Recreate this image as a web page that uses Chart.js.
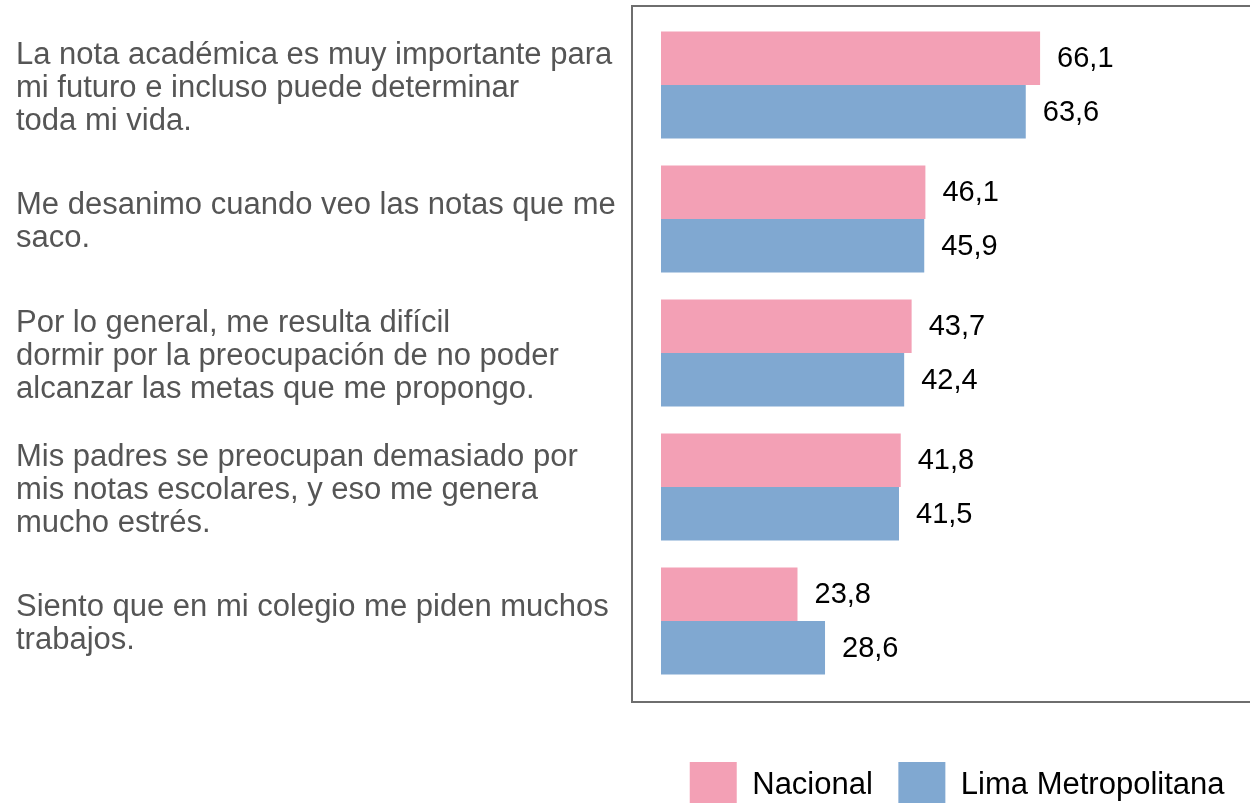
<!DOCTYPE html>
<html>
<head>
<meta charset="utf-8">
<script src="https://cdn.jsdelivr.net/npm/chart.js@4.4.0/dist/chart.umd.min.js"></script>
<style>
    html, body { margin: 0; padding: 0; background: #fff; overflow: hidden; }
    .chart-box { width: 1250px; height: 819px; position: relative; }
</style>
</head>
<body>
<div class="chart-box"><canvas id="estres"></canvas></div>
<script>
// preguntas (una línea por elemento)
const categories = [
    ['La nota académica es muy importante para', 'mi futuro e incluso puede determinar', 'toda mi vida.'],
    ['Me desanimo cuando veo las notas que me', 'saco.'],
    ['Por lo general, me resulta difícil', 'dormir por la preocupación de no poder', 'alcanzar las metas que me propongo.'],
    ['Mis padres se preocupan demasiado por', 'mis notas escolares, y eso me genera', 'mucho estrés.'],
    ['Siento que en mi colegio me piden muchos', 'trabajos.']
];
const series_names = ['Nacional', 'Lima Metropolitana'];
const nacional = [66.1, 46.1, 43.7, 41.8, 23.8];
const lima = [63.6, 45.9, 42.4, 41.5, 28.6];

const colors = ['rgb(243, 160, 181)', 'rgb(128, 168, 209)'];

Chart.defaults.font.family = "'Liberation Sans', Arial, sans-serif";

// valores al final de cada barra, con coma decimal
const valueLabels = {
    id: 'valueLabels',
    afterDatasetsDraw(chart) {
        const ctx = chart.ctx;
        ctx.save();
        ctx.font = "29px 'Liberation Sans', Arial, sans-serif";
        ctx.fillStyle = '#000';
        ctx.textAlign = 'left';
        ctx.textBaseline = 'middle';
        chart.data.datasets.forEach((ds, i) => {
            chart.getDatasetMeta(i).data.forEach((bar, j) => {
                ctx.fillText(ds.data[j].toFixed(1).replace('.', ','), bar.x + 17, bar.y + 1);
            });
        });
        ctx.restore();
    }
};

// marco gris alrededor del área de barras
const plotFrame = {
    id: 'plotFrame',
    beforeDatasetsDraw(chart) {
        const a = chart.chartArea;
        const ctx = chart.ctx;
        ctx.save();
        ctx.strokeStyle = '#6e6e6e';
        ctx.lineWidth = 2;
        ctx.strokeRect(a.left - 29, a.top - 12, a.right - a.left + 60, a.bottom - a.top + 26);
        ctx.restore();
    }
};

new Chart(document.getElementById('estres'), {
    type: 'bar',
    data: {
        labels: categories,
        datasets: [
            { label: series_names[0], data: nacional, backgroundColor: colors[0] },
            { label: series_names[1], data: lima, backgroundColor: colors[1] }
        ]
    },
    options: {
        indexAxis: 'y',
        responsive: true,
        maintainAspectRatio: false,
        animation: false,
        categoryPercentage: 0.8,
        barPercentage: 1.0,
        layout: { padding: { top: 18, left: 16, right: 0, bottom: 0 } },
        scales: {
            x: {
                min: 0,
                max: 102.7,
                ticks: { display: false },
                grid: { display: false },
                border: { display: false },
                afterFit: scale => {
                    scale.height = 48.5;
                    scale.paddingLeft = 0;
                    scale.paddingRight = 0;
                }
            },
            y: {
                ticks: {
                    autoSkip: false,
                    crossAlign: 'far',
                    labelOffset: 3,
                    color: '#555555',
                    font: { size: 31, lineHeight: '33px' }
                },
                grid: { display: false },
                border: { display: false },
                afterFit: scale => {
                    scale.width = 645;
                    // las etiquetas caben dentro de su categoría
                    scale.paddingTop = 0;
                    scale.paddingBottom = 0;
                }
            }
        },
        plugins: {
            tooltip: { enabled: false },
            legend: {
                position: 'bottom',
                align: 'end',
                labels: {
                    boxWidth: 47,
                    boxHeight: 47,
                    padding: 25.5,
                    color: '#000',
                    font: { size: 31 }
                }
            }
        }
    },
    plugins: [plotFrame, valueLabels]
});
</script>
</body>
</html>
